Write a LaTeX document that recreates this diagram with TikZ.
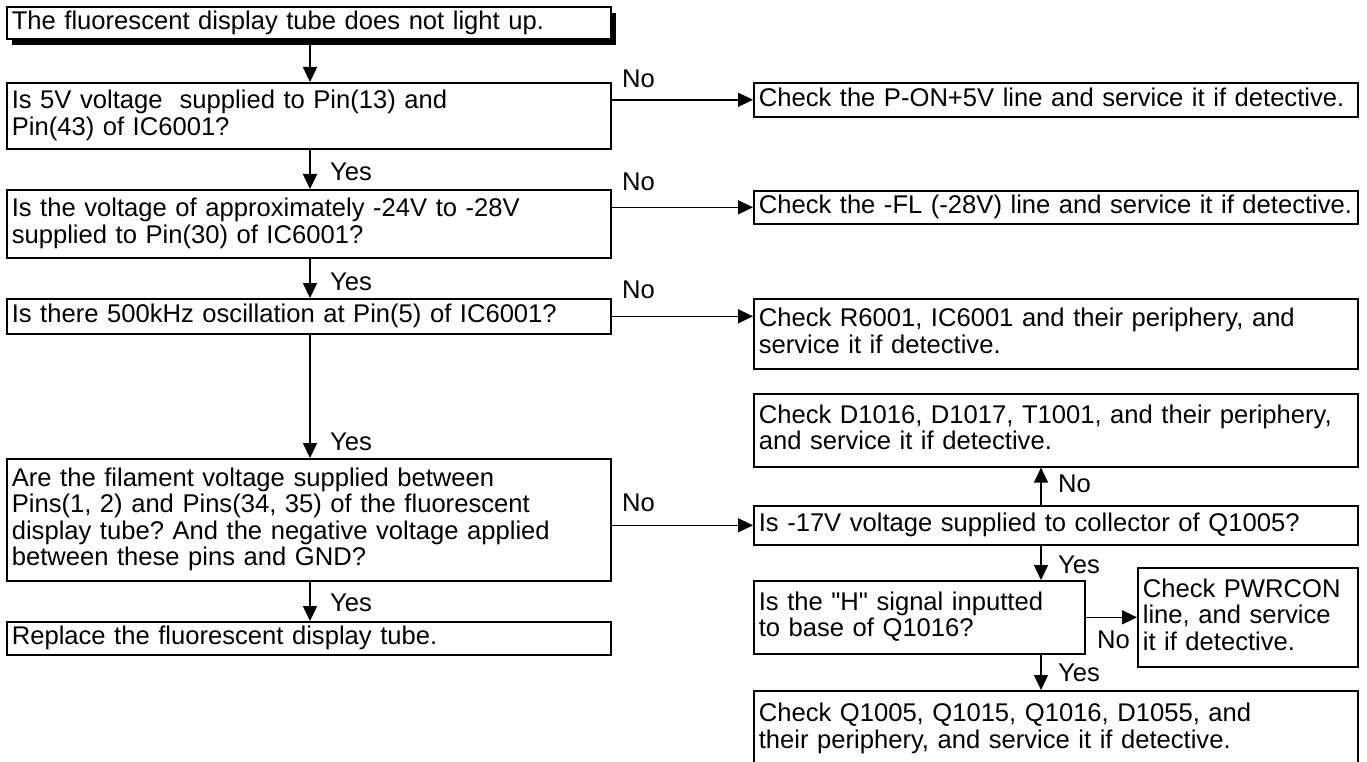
\documentclass[tikz,border=0pt]{standalone}
\usepackage{fontspec}
\setmainfont{Liberation Sans}[Ligatures=TeXOff]
\usetikzlibrary{arrows.meta,shadows}
\begin{document}
\frenchspacing
\begin{tikzpicture}[x=1pt,y=-1pt,
  txt/.style={font=\fontsize{25.6}{26.5}\selectfont},
  box/.style 2 args={draw,line width=1.6pt,fill=white,rectangle,anchor=north west,
    inner xsep=5pt,inner ysep=0pt,align=left,txt,text width=#1,minimum height=#2,
    execute at end node={\rule[-6pt]{0pt}{0pt}}},
  arr/.style={line width=1.5pt,-{Triangle[length=15pt,width=14pt]}},
  lbl/.style={txt,inner sep=0pt,anchor=base west}]
\useasboundingbox (0,0) rectangle (1367,762);
\coordinate (ax) at (310,0);
\coordinate (rx) at (1041,0);
% left column
\node[box={594pt}{32pt},drop shadow={shadow xshift=5pt,shadow yshift=-6pt,opacity=1,fill=black}] (t) at (6,6) {The fluorescent display tube does not light up.};
\node[box={594pt}{66pt}] (b1) at (6,82) {Is 5V voltage\ \ supplied to Pin(13) and\\Pin(43) of IC6001?};
\node[box={594pt}{68pt}] (b2) at (6,189) {Is the voltage of approximately -24V to -28V\\supplied to Pin(30) of IC6001?};
\node[box={594pt}{35pt}] (b3) at (6,298) {Is there 500kHz oscillation at Pin(5) of IC6001?};
\node[box={594pt}{122pt}] (b4) at (6,458) {Are the filament voltage supplied between\\Pins(1, 2) and Pins(34, 35) of the fluorescent\\display tube? And the negative voltage applied\\between these pins and GND?};
\node[box={594pt}{33pt}] (r) at (6,621) {Replace the fluorescent display tube.};
% right column
\node[box={594pt}{34pt}] (c1) at (753,82) {\mbox{Check the P-ON+5V line and service it if detective.}};
\node[box={594pt}{33pt}] (c2) at (753,190) {\mbox{Check the -FL (-28V) line and service it if detective.}};
\node[box={594pt}{70pt}] (c3) at (753,298) {Check R6001, IC6001 and their periphery, and\\service it if detective.};
\node[box={594pt}{73pt}] (c4) at (753,393) {Check D1016, D1017, T1001, and their periphery,\\and service it if detective.};
\node[box={594pt}{39pt}] (c5) at (753,505) {Is -17V voltage supplied to collector of Q1005?};
\node[box={321pt}{73pt}] (h) at (753,580) {Is the "H" signal inputted\\to base of Q1016?};
\node[box={210pt}{99pt}] (p) at (1137,567) {Check PWRCON\\line, and service\\it if detective.};
\node[box={594pt}{76pt}] (f) at (753,690) {Check Q1005, Q1015, Q1016, D1055, and\\their periphery, and service it if detective.};
% connectors
\draw[arr] (t.south -| ax) -- (b1.north -| ax);
\draw[arr] (b1.south -| ax) -- (b2.north -| ax);
\draw[arr] (b2.south -| ax) -- (b3.north -| ax);
\draw[arr] (b3.south -| ax) -- (b4.north -| ax);
\draw[arr] (b4.south -| ax) -- (r.north -| ax);
\draw[arr] (b1.east |- c1.west) -- (c1.west);
\draw[arr] (b2.east |- c2.west) -- (c2.west);
\draw[arr] (b3.east) -- (c3.west |- b3.east);
\draw[arr] (b4.east |- c5.west) -- (c5.west);
\draw[arr] (c5.north -| rx) -- (c4.south -| rx);
\draw[arr] (c5.south -| rx) -- (h.north -| rx);
\draw[arr] (h.east) -- (p.west |- h.east);
\draw[arr] (h.south -| rx) -- (f.north -| rx);
% labels
\node[lbl] (n1) at (622,88) {No};
\node[lbl] (n2) at (622,191) {No};
\node[lbl] (n3) at (622,298) {No};
\node[lbl] (n4) at (622,511) {No};
\node[lbl] (n5) at (1058,492) {No};
\node[lbl] (n6) at (1097,648) {No};
\node[lbl] (y1) at (330,181) {Yes};
\node[lbl] (y2) at (330,290) {Yes};
\node[lbl] (y3) at (330,450) {Yes};
\node[lbl] (y4) at (330,611) {Yes};
\node[lbl] (y5) at (1058,573) {Yes};
\node[lbl] (y6) at (1058,681) {Yes};
\end{tikzpicture}
\end{document}
